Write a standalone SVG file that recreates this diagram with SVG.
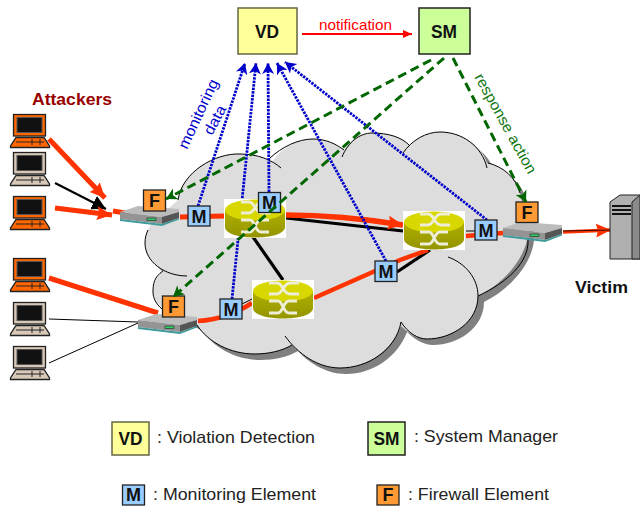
<svg xmlns="http://www.w3.org/2000/svg" width="640" height="506" viewBox="0 0 640 506">
<style>
text{font-family:"Liberation Sans",Arial,sans-serif}
.box{stroke:#222;stroke-width:1.3}
.vd{fill:#ffff99;stroke:#666644;stroke-width:1.5}
.sm{fill:#ccff99;stroke:#222;stroke-width:1.5}
.m{fill:#99ccff}
.f{fill:#ff9933}
.lab{font-weight:bold;text-anchor:middle;font-size:18px;fill:#111}
.leg{font-size:17px;fill:#222}
.red{fill:none;stroke:#ff3300;stroke-linecap:butt}
.blk{fill:none;stroke:#000}
.blue{fill:none;stroke:#0000cc;stroke-width:2.8;stroke-dasharray:2.4 1.1}
.green{fill:none;stroke:#006600;stroke-width:3;stroke-dasharray:9 5}
</style>
<defs>
<marker id="hr" markerUnits="userSpaceOnUse" markerWidth="18" markerHeight="16" refX="15" refY="7.500" orient="auto"><path d="M0,0.500 L15,7.500 L0,14.500 L2,7.500 Z" fill="#ff3300"/></marker>
<marker id="hb" markerUnits="userSpaceOnUse" markerWidth="16" markerHeight="16" refX="14" refY="7.500" orient="auto"><path d="M0,0 L14,7.500 L0,15 Z" fill="#000"/></marker>
<marker id="hn" markerUnits="userSpaceOnUse" markerWidth="10" markerHeight="10" refX="9" refY="4.500" orient="auto"><path d="M0,0.500 L9,4.500 L0,8.500 Z" fill="#ff0000"/></marker>
<marker id="hu" markerUnits="userSpaceOnUse" markerWidth="13" markerHeight="13" refX="11" refY="6" orient="auto"><path d="M0,0 L11,6 L0,12 L3,6 Z" fill="#0000cc"/></marker>
<marker id="hg" markerUnits="userSpaceOnUse" markerWidth="13" markerHeight="13" refX="11" refY="6" orient="auto"><path d="M0,0 L11,6 L0,12 L3,6 Z" fill="#006600"/></marker>
<linearGradient id="rb" x1="0" y1="0" x2="0" y2="1"><stop offset="0" stop-color="#b0b000"/><stop offset="1" stop-color="#949400"/></linearGradient>
<g id="pc">
<rect x="3.500" y="0.500" width="32" height="21.500" fill="currentColor" stroke="#222" stroke-width="1.300"/>
<rect x="7" y="3.500" width="25" height="15" fill="#111" stroke="#555"/>
<path d="M6,23.500 H34 L39.500,32 V33.500 H0.500 V32 Z" fill="currentColor" stroke="#222" stroke-width="1.300"/>
<path d="M6,28 H34 M22,25 V31 M30,25 V31" stroke="#222" stroke-width="1" fill="none"/>
</g>
<g id="router">
<rect width="62" height="39" fill="#fff"/>
<path d="M1,11 V28 C1,42 61,42 61,28 V11 Z" fill="url(#rb)"/>
<ellipse cx="31" cy="11" rx="30" ry="10.500" fill="#d8d800"/>
<path d="M17,3 H25 C31,3 31,14 38,14 H47 M17,14 H25 C31,14 31,3 38,3 H47 M17,21 H26 C31,21 31,33 37,33 H45 M17,33 H26 C31,33 31,21 37,21 H45" fill="none" stroke="#eeeed8" stroke-width="2.800"/>
</g>
<g id="switch">
<path d="M0,7 L18,1 L59,4 V7 L42,12 Z" fill="#bcbcbc"/>
<path d="M0,7 L42,12 V19 L0,14 Z" fill="#949494"/>
<path d="M42,12 L59,7 V13 L42,19 Z" fill="#555"/>
<path d="M0,14 L42,19 L59,13 V14.500 L42,21 L0,16 Z" fill="#3f9a9a"/>
<rect x="27" y="13" width="9" height="2.500" fill="#33cc66" stroke="#222" stroke-width="0.600"/>
</g>
</defs>

<g id="cloud-group">
<path d="M178,200 C182,172 215,153 240,154 C253,154 265,158 272,162 C282,147 298,139 313,139 C326,139 336,144 344,150 C352,138 362,133 372,133 C388,133 402,137 410,146 C418,137 428,132 440,132 C462,132 482,146 487,163 C504,167 516,178 520,193 L528,228 C530,250 510,280 478,296 C478,322 452,339 427,339 C418,339 408,333 401,326 C392,350 368,368 340,368 C318,368 300,354 292,345 C282,351 268,354 255,354 C230,354 208,342 197,325 L170,312 C158,306 152,298 153,292 C153,283 157,276 163,271 C150,262 145,252 145,243 C145,232 150,224 160,216 Z" transform="translate(6,6)" fill="#808080"/>
<path d="M178,200 C182,172 215,153 240,154 C253,154 265,158 272,162 C282,147 298,139 313,139 C326,139 336,144 344,150 C352,138 362,133 372,133 C388,133 402,137 410,146 C418,137 428,132 440,132 C462,132 482,146 487,163 C504,167 516,178 520,193 L528,228 C530,250 510,280 478,296 C478,322 452,339 427,339 C418,339 408,333 401,326 C392,350 368,368 340,368 C318,368 300,354 292,345 C282,351 268,354 255,354 C230,354 208,342 197,325 L170,312 C158,306 152,298 153,292 C153,283 157,276 163,271 C150,262 145,252 145,243 C145,232 150,224 160,216 Z" fill="#dddddd"/>
<path d="M178,200 C182,172 215,153 240,154 C258,154 272,160 281,168 M270,158 C282,147 298,139 313,139 C326,139 336,144 344,150 M342,157 C348,142 360,133 372,133 C388,133 402,137 410,146 M403,153 C412,140 426,132 440,132 C462,132 482,146 487,168 M488,163 C504,167 516,178 520,193 M528,240 C529,262 508,282 478,296 M448,257 C465,263 478,278 478,296 C478,322 452,339 427,339 C418,339 408,333 401,322 M401,322 C396,350 368,368 340,368 C318,368 298,354 285,336 M292,345 C282,351 268,354 255,354 C230,354 208,342 197,325 M163,271 C154,277 153,284 153,292 C153,298 156,304 162,309 M187,276 C165,276 145,262 145,243 C145,238 146,234 148,230" fill="none" stroke="#000"/>
</g>

<g id="connectors">
<path class="blk" stroke-width="3.200" d="M286,218 L403,231 M253,237 L283,280 M397,272 L430,250"/>
<path class="blk" stroke-width="1" d="M466,231 H476 M242,304 L252,299 M49,319 L138,322 M49,363 L138,323"/>
<path class="red" stroke-width="5" d="M49,139 L105,198" marker-end="url(#hr)"/>
<path class="blk" stroke-width="2.200" d="M55,183 L106,209" marker-end="url(#hb)"/>
<path class="red" stroke-width="5" d="M55,208 L112,215" marker-end="url(#hr)"/>
<path class="red" stroke-width="5" d="M113,211 L125,213 M49,278 L158,313 M180,217 L224,216"/>
<path class="red" stroke-width="5.500" d="M286,215 C320,215 360,218 403,225" marker-end="url(#hr)"/>
<path class="red" stroke-width="4.500" d="M466,236 L503,233 M198,321 C215,320 235,314 252,303 M314,298 L400,260 L428,250"/>
<path class="red" stroke-width="3.500" d="M563,232 L611,230" marker-end="url(#hr)"/>
<path class="blk" stroke-width="0.800" d="M563,231 L612,230"/>
<path d="M302,34 H412" fill="none" stroke="#ff0000" stroke-width="2.200" marker-end="url(#hn)"/>
<path class="blue" d="M198,206 L245,63" marker-end="url(#hu)"/>
<path class="blue" d="M232,299 L256,63" marker-end="url(#hu)"/>
<path class="blue" d="M269,192 L268,63" marker-end="url(#hu)"/>
<path class="blue" d="M386,261 L277,63" marker-end="url(#hu)"/>
<path class="blue" d="M487,220 L285,62" marker-end="url(#hu)"/>
</g>

<g id="router1"><use href="#router" x="224" y="199"/></g>
<g id="router2"><use href="#router" x="252" y="280"/></g>
<g id="router3"><use href="#router" x="403" y="211"/></g>

<g id="attacker1" color="#ff6600"><use href="#pc" x="10" y="114"/></g>
<g id="host1" color="#d8c8b8"><use href="#pc" x="10" y="152"/></g>
<g id="attacker2" color="#ff6600"><use href="#pc" x="10" y="196"/></g>
<g id="attacker3" color="#ff6600"><use href="#pc" x="10" y="258"/></g>
<g id="host2" color="#d8c8b8"><use href="#pc" x="10" y="302"/></g>
<g id="host3" color="#d8c8b8"><use href="#pc" x="10" y="346"/></g>

<g id="switch1"><use href="#switch" x="120" y="205"/></g>
<g id="switch2"><use href="#switch" x="138" y="313"/></g>
<g id="switch3"><use href="#switch" x="503" y="221"/></g>

<g id="f1"><rect class="box f" x="143.500" y="190" width="22" height="21"/><text class="lab" x="154.500" y="207">F</text></g>
<g id="f2"><rect class="box f" x="162.500" y="296" width="22" height="21"/><text class="lab" x="173.500" y="313">F</text></g>
<g id="f3"><rect class="box f" x="516" y="202" width="22" height="20.500"/><text class="lab" x="527" y="218.500">F</text></g>
<g id="m1"><rect class="box m" x="188" y="206" width="22" height="20"/><text class="lab" x="199" y="222.500">M</text></g>
<g id="m2"><rect class="box m" x="258.500" y="192.500" width="22" height="20"/><text class="lab" x="269.500" y="209">M</text></g>
<g id="m3"><rect class="box m" x="220" y="299" width="22" height="20"/><text class="lab" x="231" y="315.500">M</text></g>
<g id="m4"><rect class="box m" x="375" y="261" width="22" height="20.500"/><text class="lab" x="386" y="277.500">M</text></g>
<g id="m5"><rect class="box m" x="475" y="220" width="22" height="20"/><text class="lab" x="486" y="236.500">M</text></g>

<g id="green-connectors">
<path class="green" d="M431,60 L166,199" marker-end="url(#hg)"/>
<path class="green" d="M444,58 L173,297" marker-end="url(#hg)"/>
<path class="green" d="M453,58 L526,202" marker-end="url(#hg)"/>
</g>

<g id="victim">
<path d="M610,202 L620,195 H640 V259 H610 Z" fill="#b0b0b0" stroke="#222"/>
<path d="M632,202 L640,195 V259 H632 Z" fill="#8a8a8a" stroke="#222"/>
<path d="M612,206 H631 M612,210 H631 M612,214 H631" stroke="#111" stroke-width="2" fill="none"/>
</g>

<g id="vd"><rect class="vd" x="238" y="8" width="59" height="46"/><text class="lab" x="267" y="38" textLength="24" lengthAdjust="spacingAndGlyphs">VD</text></g>
<g id="sm"><rect class="sm" x="419" y="8" width="51" height="46"/><text class="lab" x="444" y="38" textLength="26" lengthAdjust="spacingAndGlyphs">SM</text></g>

<g id="labels">
<text x="319" y="30" font-size="15" fill="#ff0000" textLength="73" lengthAdjust="spacingAndGlyphs">notification</text>
<text x="32" y="105" font-size="16.500" font-weight="bold" fill="#990000" textLength="80" lengthAdjust="spacingAndGlyphs">Attackers</text>
<text x="575" y="293" font-size="16.500" font-weight="bold" fill="#111" textLength="53" lengthAdjust="spacingAndGlyphs">Victim</text>
<text transform="translate(187,150) rotate(-65)" font-size="15" fill="#0000cc" textLength="75" lengthAdjust="spacingAndGlyphs">monitoring</text>
<text transform="translate(212,136) rotate(-62)" font-size="15" fill="#0000cc" textLength="31" lengthAdjust="spacingAndGlyphs">data</text>
<text transform="translate(474,77) rotate(61)" font-size="15" fill="#117711" textLength="112" lengthAdjust="spacingAndGlyphs">response action</text>
</g>

<g id="legend-vd"><rect class="vd" x="112" y="422" width="37" height="33"/><text class="lab" x="130.500" y="445" textLength="24" lengthAdjust="spacingAndGlyphs">VD</text><text class="leg" x="157" y="443" textLength="158" lengthAdjust="spacingAndGlyphs">: Violation Detection</text></g>
<g id="legend-sm"><rect class="sm" x="368" y="422" width="37" height="33"/><text class="lab" x="386.500" y="445" textLength="26" lengthAdjust="spacingAndGlyphs">SM</text><text class="leg" x="414" y="442" textLength="144" lengthAdjust="spacingAndGlyphs">: System Manager</text></g>
<g id="legend-m"><rect class="box m" x="122.500" y="485" width="22" height="20"/><text class="lab" x="133.500" y="501">M</text><text class="leg" x="153" y="500" textLength="163" lengthAdjust="spacingAndGlyphs">: Monitoring Element</text></g>
<g id="legend-f"><rect class="box f" x="377" y="485" width="22" height="20"/><text class="lab" x="388" y="501">F</text><text class="leg" x="408" y="500" textLength="141" lengthAdjust="spacingAndGlyphs">: Firewall Element</text></g>
</svg>
